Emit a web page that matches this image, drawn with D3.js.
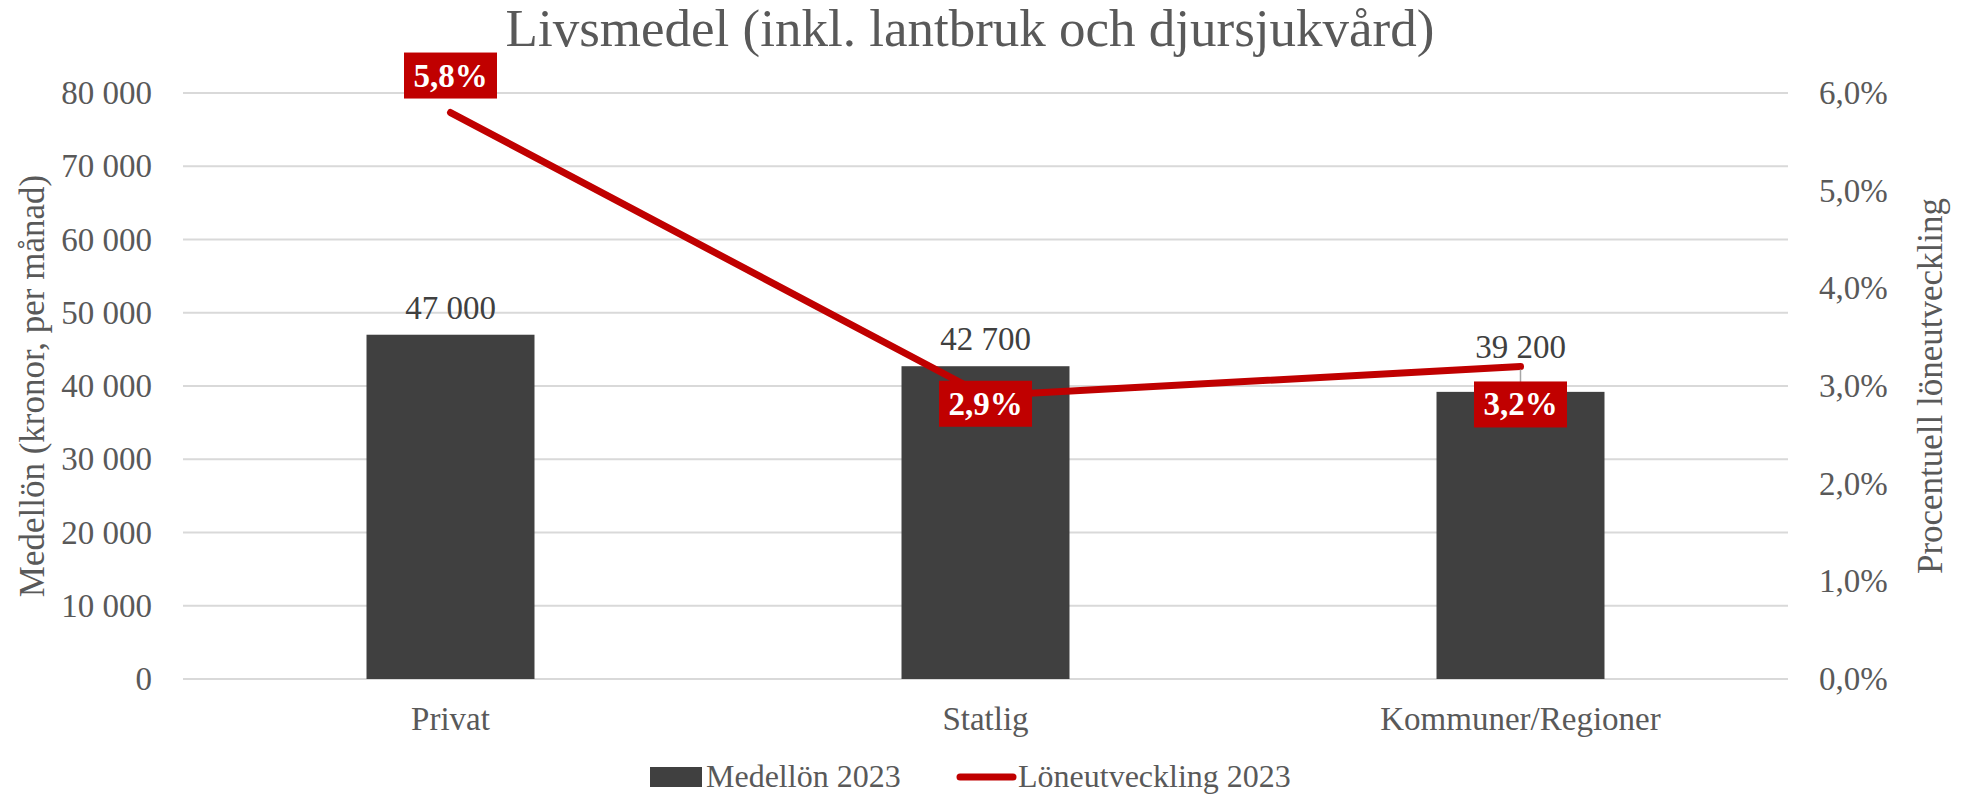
<!DOCTYPE html>
<html>
<head>
<meta charset="utf-8">
<script src="https://cdn.jsdelivr.net/npm/d3@7"></script>
<style>
  html, body { margin: 0; padding: 0; background: #fff; }
  svg { display: block; font-family: 'Liberation Serif', 'DejaVu Serif', serif; }
</style>
</head>
<body>
<div id="chart"></div>
<script>
// data
const categories = ['Privat', 'Statlig', 'Kommuner/Regioner']
const medellon = [47000, 42700, 39200]
const loneutveckling = [0.058, 0.029, 0.032]
const leftTicks = [0, 10000, 20000, 30000, 40000, 50000, 60000, 70000, 80000]
const rightTicks = [0, 0.01, 0.02, 0.03, 0.04, 0.05, 0.06]

// Excel labels were dragged by hand, keep their offsets here (px)
const pctLabelShift = [-37, 8, 38]
const barLabelShift = [-16, -16, -34]

const width = 1982
const height = 795
const margin = { top: 93, right: 194, bottom: 116, left: 183 }

const svg = d3.select('#chart')
  .append('svg')
  .attr('width', width)
  .attr('height', height)

const x = d3.scaleBand()
  .domain(categories)
  .range([margin.left, width - margin.right])
  .paddingInner(0.686)
  .paddingOuter(0.343)

const y = d3.scaleLinear()
  .domain([0, 80000])
  .range([height - margin.bottom, margin.top])

const y2 = d3.scaleLinear()
  .domain([0, 0.06])
  .range([height - margin.bottom, margin.top])

const fmtNum = v => d3.format(',')(v).replace(/,/g, ' ')
const fmtPct = d => d3.format('.1f')(d * 100).replace('.', ',') + '%'

// gridlines
svg.append('g')
  .selectAll('line')
  .data(leftTicks)
  .join('line')
  .attr('x1', margin.left)
  .attr('x2', width - margin.right)
  .attr('y1', d => y(d))
  .attr('y2', d => y(d))
  .attr('stroke', '#d9d9d9')
  .attr('stroke-width', 2)

// left axis
const leftAxis = svg.append('g')
  .attr('transform', `translate(${margin.left},0)`)
  .call(d3.axisLeft(y).tickValues(leftTicks).tickFormat(fmtNum).tickSize(0).tickPadding(31))
leftAxis.select('.domain').remove()
leftAxis.selectAll('text')
  .attr('font-family', 'Liberation Serif')
  .attr('font-size', 33)
  .attr('fill', '#595959')

// right axis
const rightAxis = svg.append('g')
  .attr('transform', `translate(${width - margin.right},0)`)
  .call(d3.axisRight(y2).tickValues(rightTicks).tickFormat(fmtPct).tickSize(0).tickPadding(31))
rightAxis.select('.domain').remove()
rightAxis.selectAll('text')
  .attr('font-family', 'Liberation Serif')
  .attr('font-size', 33)
  .attr('fill', '#595959')

// category axis
const bottomAxis = svg.append('g')
  .attr('transform', `translate(0,${height - margin.bottom})`)
  .call(d3.axisBottom(x).tickSize(0).tickPadding(28))
bottomAxis.select('.domain').remove()
bottomAxis.selectAll('text')
  .attr('font-family', 'Liberation Serif')
  .attr('font-size', 33)
  .attr('fill', '#595959')

// bars
svg.append('g')
  .selectAll('rect')
  .data(medellon)
  .join('rect')
  .attr('x', (d, i) => x(categories[i]))
  .attr('width', x.bandwidth())
  .attr('y', d => y(d))
  .attr('height', d => y(0) - y(d))
  .attr('fill', '#404040')

// bar value labels
svg.append('g')
  .selectAll('text')
  .data(medellon)
  .join('text')
  .attr('x', (d, i) => x(categories[i]) + x.bandwidth() / 2)
  .attr('y', (d, i) => y(d) + barLabelShift[i])
  .attr('text-anchor', 'middle')
  .attr('font-size', 33)
  .attr('fill', '#404040')
  .text(fmtNum)

// line
const cx = i => x(categories[i]) + x.bandwidth() / 2
const line = d3.line()
  .x((d, i) => cx(i))
  .y(d => y2(d))

svg.append('path')
  .datum(loneutveckling)
  .attr('d', line)
  .attr('fill', 'none')
  .attr('stroke', '#c00000')
  .attr('stroke-width', 7)
  .attr('stroke-linecap', 'round')
  .attr('stroke-linejoin', 'round')

// leader line for the label that sits away from its point
const leaderIdx = d3.range(loneutveckling.length).filter(i => pctLabelShift[i] > 20)
svg.append('g')
  .selectAll('line')
  .data(leaderIdx)
  .join('line')
  .attr('x1', i => cx(i))
  .attr('x2', i => cx(i))
  .attr('y1', i => y2(loneutveckling[i]) + 3)
  .attr('y2', i => y2(loneutveckling[i]) + pctLabelShift[i] - 22)
  .attr('stroke', '#a6a6a6')
  .attr('stroke-width', 1.5)

// % labels
const pctLabels = svg.append('g')
  .selectAll('g')
  .data(loneutveckling)
  .join('g')
  .attr('transform', (d, i) => `translate(${cx(i)},${y2(d) + pctLabelShift[i]})`)

pctLabels.append('rect')
  .attr('x', -46.5)
  .attr('y', -23)
  .attr('width', 93)
  .attr('height', 46)
  .attr('fill', '#c00000')

pctLabels.append('text')
  .attr('text-anchor', 'middle')
  .attr('dy', 11)
  .attr('font-size', 33)
  .attr('font-weight', 'bold')
  .attr('fill', '#fff')
  .text(fmtPct)

// title
svg.append('text')
  .attr('x', 970)
  .attr('y', 46)
  .attr('text-anchor', 'middle')
  .attr('font-size', 53)
  .attr('fill', '#595959')
  .text('Livsmedel (inkl. lantbruk och djursjukvård)')

// axis titles
const midY = (y.range()[0] + y.range()[1]) / 2
svg.append('text')
  .attr('transform', `translate(44,${midY}) rotate(-90)`)
  .attr('text-anchor', 'middle')
  .attr('font-size', 35)
  .attr('fill', '#595959')
  .text('Medellön (kronor, per månad)')

svg.append('text')
  .attr('transform', `translate(1942,${midY}) rotate(-90)`)
  .attr('text-anchor', 'middle')
  .attr('font-size', 35)
  .attr('fill', '#595959')
  .text('Procentuell löneutveckling')

// legend
const legend = svg.append('g').attr('transform', 'translate(0,777)')
legend.append('rect')
  .attr('x', 650).attr('y', -10).attr('width', 52).attr('height', 20)
  .attr('fill', '#404040')
legend.append('text')
  .attr('x', 706).attr('y', 10)
  .attr('font-size', 32).attr('fill', '#595959')
  .text('Medellön 2023')
legend.append('line')
  .attr('x1', 960).attr('x2', 1013).attr('y1', 0).attr('y2', 0)
  .attr('stroke', '#c00000').attr('stroke-width', 7).attr('stroke-linecap', 'round')
legend.append('text')
  .attr('x', 1018).attr('y', 10)
  .attr('font-size', 32).attr('fill', '#595959')
  .text('Löneutveckling 2023')
</script>
</body>
</html>
